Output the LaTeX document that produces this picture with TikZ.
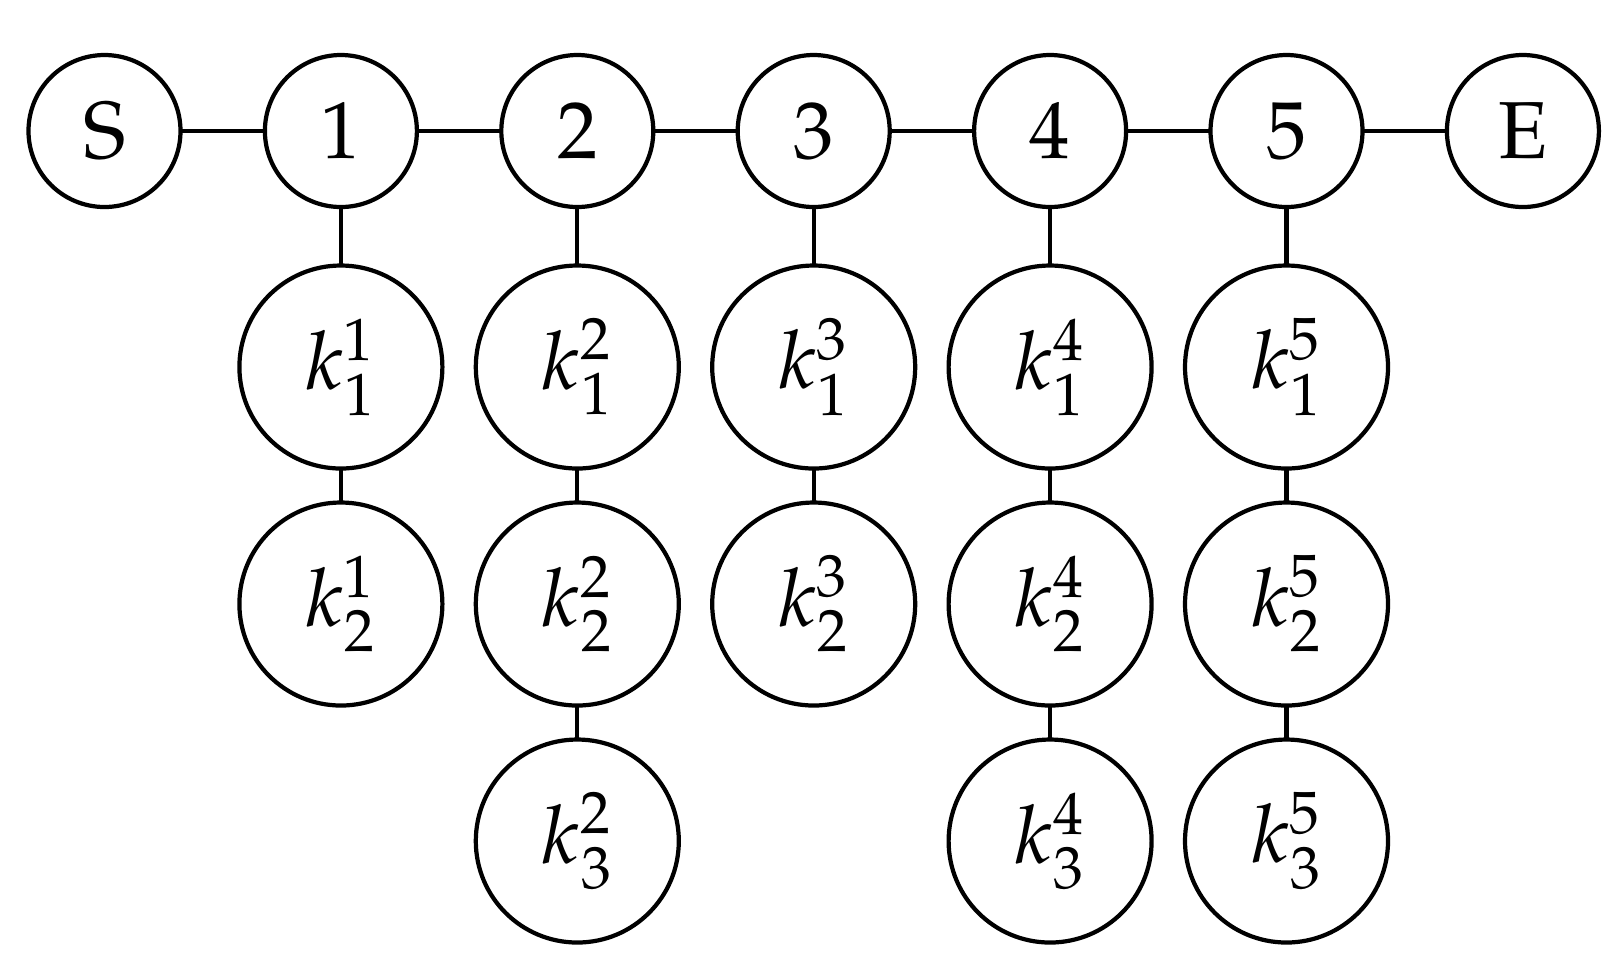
\documentclass[tikz,border=0pt]{standalone}
\usepackage[T1]{fontenc}
\usepackage{mathpazo}
\DeclareMathSizes{23}{23}{17}{13}
\begin{document}
\begin{tikzpicture}[
  every node/.style={font=\fontsize{23}{28}\selectfont},
  small/.style={circle, draw, line width=1.2pt, minimum size=1.52cm, inner sep=0pt, outer sep=0pt},
  big/.style={circle, draw, line width=1.2pt, minimum size=2.03cm, inner sep=0pt, outer sep=0pt},
  edge/.style={line width=1.2pt}
]
\useasboundingbox (0,0) rectangle (16.2,-9.6);
\def\xo{1.045}
\def\dx{2.364}
\def\ya{-1.31}
\def\yb{-3.67}
\def\yc{-6.04}
\def\yd{-8.41}
\node[small] (S) at (\xo,\ya) {S};
\foreach \i in {1,...,5} {
  \node[small] (n\i) at ({\xo+\dx*\i},\ya) {\i};
}
\node[small] (E) at ({\xo+\dx*6},\ya) {E};
\draw[edge] (S) -- (n1);
\draw[edge] (n1) -- (n2);
\draw[edge] (n2) -- (n3);
\draw[edge] (n3) -- (n4);
\draw[edge] (n4) -- (n5);
\draw[edge] (n5) -- (E);
% column nodes
\foreach \i in {1,...,5} {
  \node[big] (k\i a) at ({\xo+\dx*\i},\yb) {$k^{\i}_{1}$};
  \node[big] (k\i b) at ({\xo+\dx*\i},\yc) {$k^{\i}_{2}$};
  \draw[edge] (n\i) -- (k\i a);
  \draw[edge] (k\i a) -- (k\i b);
}
\foreach \i in {2,4,5} {
  \node[big] (k\i c) at ({\xo+\dx*\i},\yd) {$k^{\i}_{3}$};
  \draw[edge] (k\i b) -- (k\i c);
}
\end{tikzpicture}
\end{document}
